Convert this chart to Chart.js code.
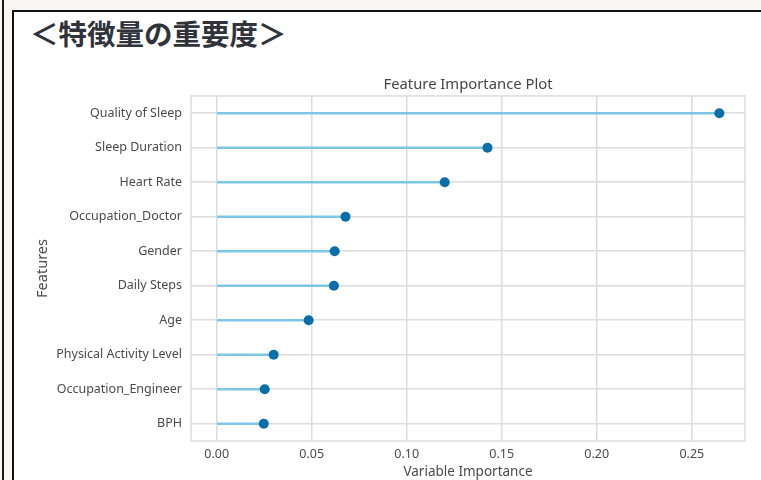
<!DOCTYPE html>
<html lang="ja">
<head>
<meta charset="utf-8">
<title>特徴量の重要度</title>
<script src="https://cdn.jsdelivr.net/npm/chart.js@4/dist/chart.umd.min.js"></script>
<style>
  html, body { margin: 0; padding: 0; }
  body {
    width: 761px; height: 480px; overflow: hidden; position: relative;
    background: #f8f5f3;
  }
  .rule-left {
    position: absolute; left: 2px; top: 0; width: 1.5px; height: 480px; background: #1a1a1a;
  }
  .frame {
    position: absolute; left: 12px; top: 10px; width: 760px; height: 480px;
    border-left: 2px solid #111; border-top: 2px solid #111; background: #ffffff;
  }
  .heading {
    position: absolute; left: 30px; top: 19px; margin: 0;
    font-family: "Noto Sans CJK JP", sans-serif; font-weight: 700;
    font-size: 28.5px; line-height: 28px; color: #30333a; white-space: nowrap;
  }
  #chart { position: absolute; left: 0; top: 0; }
</style>
</head>
<body>
<div class="rule-left"></div>
<div class="frame"></div>
<h1 class="heading">＜特徴量の重要度＞</h1>
<canvas id="chart" width="761" height="480"></canvas>
<script>
// Feature names, most important first
const features = [
  'Quality of Sleep', 'Sleep Duration', 'Heart Rate', 'Occupation_Doctor', 'Gender',
  'Daily Steps', 'Age', 'Physical Activity Level', 'Occupation_Engineer', 'BPH'
];
// Importance score for each feature
const importance = [0.2645, 0.1425, 0.1200, 0.0678, 0.0621, 0.0617, 0.0484, 0.0300, 0.0253, 0.0248];
// Tick values along the importance axis
const xTicks = [0.00, 0.05, 0.10, 0.15, 0.20, 0.25];

const gridColor = '#dcdcdc';
const labelColor = '#4a4a4a';
const fontFamily = '"Noto Sans", sans-serif';

// Outline around the plotting area
const plotFrame = {
  id: 'plotFrame',
  beforeDatasetsDraw(chart) {
    const { ctx, chartArea: a } = chart;
    ctx.save();
    ctx.strokeStyle = gridColor;
    ctx.lineWidth = 1.5;
    ctx.strokeRect(a.left, a.top, a.right - a.left, a.bottom - a.top);
    ctx.restore();
  }
};

new Chart(document.getElementById('chart'), {
  type: 'bar',
  data: {
    labels: features,
    datasets: [
      {
        // stems
        data: importance,
        backgroundColor: '#7cc6e6',
        barThickness: 2,
        borderWidth: 0,
        order: 2
      },
      {
        // heads
        type: 'line',
        indexAxis: 'y',
        data: importance,
        showLine: false,
        pointRadius: 5,
        pointHoverRadius: 5,
        pointBackgroundColor: '#0a6fa8',
        pointBorderWidth: 0,
        order: 1
      }
    ]
  },
  options: {
    indexAxis: 'y',
    responsive: false,
    animation: false,
    layout: { padding: { left: 20, right: 16, top: 70, bottom: 0 } },
    plugins: {
      legend: { display: false },
      tooltip: { enabled: false },
      title: {
        display: true,
        text: 'Feature Importance Plot',
        fullSize: false,
        color: '#454545',
        font: { family: fontFamily, size: 14.8, weight: 'normal' },
        padding: { top: 6, bottom: 2.2 }
      }
    },
    scales: {
      x: {
        type: 'linear',
        min: -0.0135,
        max: 0.278,
        afterBuildTicks(scale) { scale.ticks = xTicks.map(v => ({ value: v })); },
        afterFit(scale) { scale.height = 39; },
        grid: { color: gridColor, lineWidth: 1.5, drawTicks: false },
        border: { display: false },
        ticks: {
          padding: 5.5,
          color: labelColor,
          font: { family: fontFamily, size: 12.5 },
          callback: v => Number(v).toFixed(2)
        },
        title: {
          display: true,
          text: 'Variable Importance',
          color: labelColor,
          font: { family: fontFamily, size: 13.5 },
          padding: { top: 0, bottom: 0 }
        }
      },
      y: {
        type: 'category',
        offset: true,
        afterFit(scale) { scale.width = 171; },
        grid: { color: gridColor, lineWidth: 1.5, drawTicks: false, offset: false },
        border: { display: false },
        ticks: {
          padding: 9,
          color: labelColor,
          font: { family: fontFamily, size: 12.5 }
        },
        title: {
          display: true,
          text: 'Features',
          color: labelColor,
          font: { family: fontFamily, size: 14.5 },
          padding: { top: 14, bottom: 0 }
        }
      }
    }
  },
  plugins: [plotFrame]
});
</script>
</body>
</html>
